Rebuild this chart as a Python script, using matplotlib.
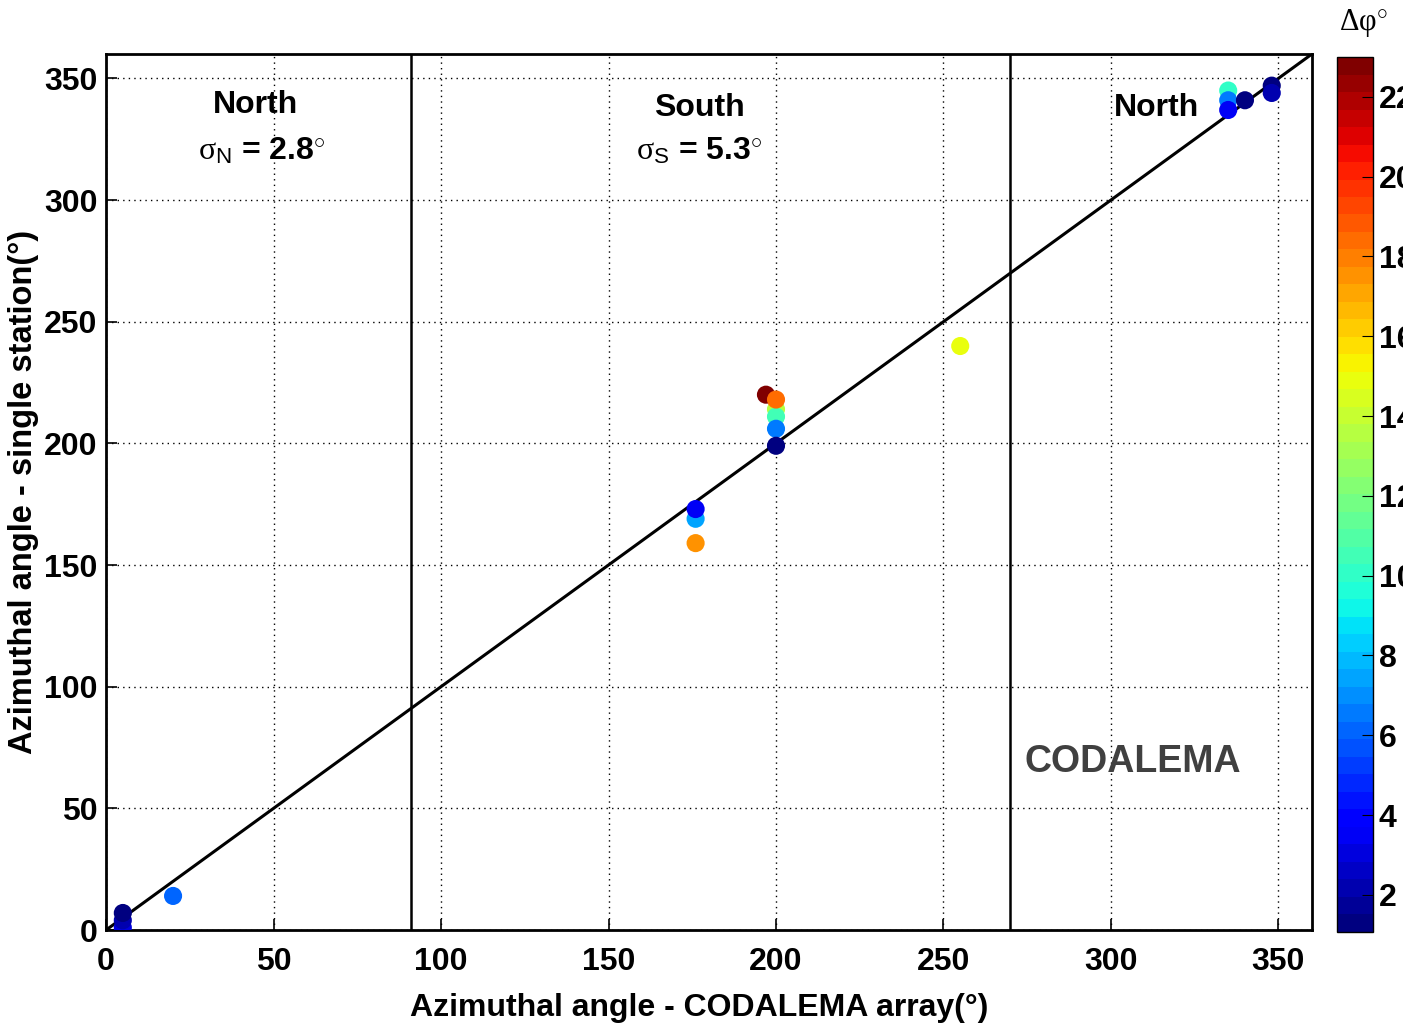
import numpy as np
import matplotlib
matplotlib.use("Agg")
import matplotlib.pyplot as plt
from matplotlib.colors import Normalize

plt.rcParams['font.family'] = ['Liberation Sans', 'DejaVu Sans']
plt.rcParams['mathtext.fontset'] = 'custom'
plt.rcParams['mathtext.rm'] = 'Liberation Serif'
plt.rcParams['mathtext.it'] = 'Liberation Serif:italic'
plt.rcParams['mathtext.bf'] = 'Liberation Sans:bold'
plt.rcParams['mathtext.sf'] = 'Liberation Sans'

# data
x_array = [5, 5, 5, 20, 176, 176, 176, 200, 200, 200, 200, 197, 200, 255, 335, 335, 335, 340, 348, 348]
y_single = [1, 4, 7, 14, 169, 173, 159, 214, 211, 206, 199, 220, 218, 240, 345, 341, 337, 341, 347, 344]
dphi = [3, 2, 1.5, 6, 7.5, 3.5, 17.3, 13.5, 10.5, 6.5, 1.5, 22.8, 18.5, 15, 10, 6.5, 3.5, 1.5, 1.5, 2]
ticks = [0, 50, 100, 150, 200, 250, 300, 350]
cbar_ticks = [2, 4, 6, 8, 10, 12, 14, 16, 18, 20, 22]
boundaries = [91, 270]
region_labels = ["North", "South", "North"]

fig = plt.figure(figsize=(14.03, 10.29), dpi=100)
ax = fig.add_axes([0.0756, 0.0962, 0.8595, 0.8513])
cax = fig.add_axes([0.953, 0.0943, 0.0257, 0.8503])

cmap = plt.get_cmap('jet', 50)
norm = Normalize(vmin=1.07, vmax=23.0)

ax.plot([0, 360], [0, 360], color='black', lw=2.2, zorder=2)
for b in boundaries:
    ax.plot([b, b], [0, 360], color='black', lw=1.8, zorder=2)

sc = ax.scatter(x_array, y_single, c=dphi, cmap=cmap, norm=norm, s=170,
                edgecolors='none', zorder=3)

ax.set_xlim(0, 360)
ax.set_ylim(0, 360)
ax.set_xticks(ticks)
ax.set_yticks(ticks)
ax.grid(True, color='black', linestyle=(0, (1, 3)), lw=1.0)
ax.set_axisbelow(True)
for s in ax.spines.values():
    s.set_linewidth(2)
ax.tick_params(direction='in', length=8, width=1.2, labelsize=23)
ax.tick_params(axis='x', pad=12)
ax.tick_params(axis='y', pad=6)
for lab in ax.get_xticklabels() + ax.get_yticklabels():
    lab.set_fontweight('bold')

ax.set_xlabel('Azimuthal angle - CODALEMA array(°)', fontsize=23, fontweight='bold')
ax.xaxis.set_label_coords(0.4917, -0.072)
ax.set_ylabel('Azimuthal angle - single station(°)', fontsize=23.5, fontweight='bold', labelpad=4)

ax.text(44.5, 339, region_labels[0], fontsize=23, fontweight='bold', ha='center', va='center')
ax.text(46.5, 320, r'$\mathrm{σ}_{\mathsf{N}}$ = 2.8$^{\mathrm{\circ}}$', fontsize=23, fontweight='bold', ha='center', va='center')
ax.text(177, 338, region_labels[1], fontsize=23, fontweight='bold', ha='center', va='center')
ax.text(177, 320, r'$\mathrm{σ}_{\mathsf{S}}$ = 5.3$^{\mathrm{\circ}}$', fontsize=23, fontweight='bold', ha='center', va='center')
ax.text(313.5, 338, region_labels[2], fontsize=23, fontweight='bold', ha='center', va='center')
ax.text(306.5, 69, 'CODALEMA', fontsize=27, fontweight='bold', color='#404040', ha='center', va='center')

cb = fig.colorbar(sc, cax=cax, ticks=cbar_ticks)
cb.outline.set_linewidth(1)
cax.tick_params(direction='in', length=8, labelsize=23, pad=4)
for lab in cax.get_yticklabels():
    lab.set_fontweight('bold')
fig.text(0.9715, 0.978, r'$\mathrm{Δφ}^{\mathrm{\circ}}$', fontsize=22, ha='center', va='center')

fig.savefig('out.png', dpi=100)
